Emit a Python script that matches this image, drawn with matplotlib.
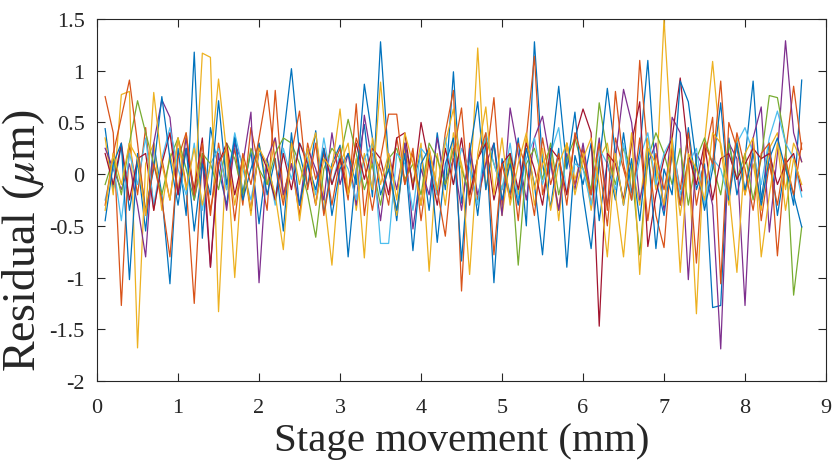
import matplotlib
matplotlib.use('Agg')
import matplotlib.pyplot as plt
import numpy as np

# stage positions (mm)
x = [round(0.1 * (i + 1), 1) for i in range(87)]

# residuals (um) per run
blue1 = [0.44, -0.15, 0.28, -0.35, 0.12, -0.55, 0.30, -0.20, -1.06, 0.25,
         -0.40, 1.18, -0.62, 0.45, 0.05, -0.30, 0.38, -0.18, 0.22, -0.48,
         0.15, -0.25, 0.35, 1.02, 0.20, -0.12, 0.42, -0.38, 0.10, 0.28,
         -0.80, 0.05, 0.48, -0.22, 1.28, 0.12, -0.45, 0.30, -0.10, 0.22,
         -0.35, 0.40, -0.15, 0.99, -0.28, 0.18, -0.40, 0.32, -1.05, 0.15,
         -0.20, 0.35, -0.50, 1.28, 0.10, -0.32, 0.25, -0.90, 0.18, -0.10,
         0.30, -0.45, 0.12, -0.25, 0.40, -0.18, 0.22, 1.10, -0.05, -0.40,
         0.20, -0.30, 0.45, -0.15, 0.10, -1.29, -1.27, 0.35, -0.20, 0.15,
         0.90, -0.25, 0.30, -0.40, 0.10, -0.30, 0.91]
orange1 = [0.75, 0.40, -1.27, 0.30, -0.20, 0.45, -0.35, 0.15, -0.25, 0.35,
           -0.10, -1.25, 0.20, -0.40, 0.30, -0.15, 0.25, -0.30, 0.45, 0.05,
           -0.35, 0.81, -0.20, 0.10, -0.40, 0.30, -0.05, 0.20, -0.30, 0.15,
           -0.25, 0.68, -0.40, 0.20, 0.05, -0.30, 0.35, -0.10, 0.25, -0.45,
           0.15, -0.20, 0.40, 0.81, -1.13, 0.30, -0.25, 0.10, 0.74, -0.30,
           0.20, -0.45, 0.35, 1.14, -0.20, 0.15, -0.35, 0.30, -0.10, 0.25,
           -0.30, 0.10, -0.50, 0.35, 0.05, -0.25, 1.10, 0.20, -0.40, -0.71,
           0.30, -0.15, 0.40, -0.30, 0.15, 0.55, -1.06, 0.50, 0.25, -0.20,
           0.35, -0.45, 0.10, -0.30, 0.20, 0.85, 0.24]
yellow1 = [0.35, -0.20, 0.77, 0.80, -1.68, 0.10, 0.30, -0.35, 0.20, -0.15,
           0.40, -0.25, 1.17, 1.13, -1.33, 0.25, -0.30, 0.15, -0.40, 0.30,
           -0.10, 0.35, -0.25, 0.20, -0.45, 0.15, 0.40, -0.20, -0.88, 0.10,
           0.30, -0.35, 0.20, -0.15, 0.89, 0.05, -0.40, 0.25, -0.10, 0.30,
           -0.94, 0.20, -0.30, 0.40, 0.10, -0.25, 1.22, -0.15, 0.30, -0.40,
           0.15, -0.20, 0.35, -0.30, 0.10, 0.25, -0.45, 0.30, -0.05, 0.20,
           -0.35, 0.15, 0.30, -0.20, -0.80, 0.10, -0.30, 0.35, -0.15, 1.50,
           0.20, -0.40, 0.15, -1.35, 0.30, 1.09, 0.25, -0.30, 0.35, -0.20,
           0.10, -0.35, 0.25, 0.40, -0.15, 0.30, 0.12]
purple = [0.25, 0.05, -0.15, 0.10, -0.30, -0.80, 0.30, 0.72, 0.55, -0.20,
          0.35, -0.25, 0.15, -0.90, 0.20, -0.35, 0.30, 0.10, 0.60, -1.05,
          0.15, 0.35, -0.20, 0.10, -0.30, 0.25, 0.05, -0.25, 0.40, -0.10,
          0.20, -0.30, 0.57, 0.10, -0.45, 0.20, -0.15, 0.30, -0.53, 0.05,
          -0.20, 0.35, -0.10, 0.15, -0.35, 0.25, -0.20, 0.10, 0.30, -0.40,
          0.64, 0.20, -0.25, 0.35, 0.56, 0.10, -0.35, 0.20, -0.15, 0.30,
          -0.20, 0.35, -0.30, 0.15, 0.82, 0.50, -0.25, 0.10, 0.30, -0.35,
          0.55, 0.40, -1.02, 0.20, 0.05, -0.30, -1.69, 0.30, 0.15, -1.27,
          0.35, 0.65, -0.56, 0.20, 1.29, 0.40, 0.12]
green = [-0.10, 0.15, -0.20, 0.30, 0.71, 0.40, 0.10, -0.20, 0.15, 0.35,
         0.05, -0.25, 0.20, 0.10, -0.15, 0.30, 0.15, -0.20, 0.25, 0.05,
         -0.10, 0.20, 0.35, 0.30, 0.10, -0.20, -0.61, 0.05, 0.25, 0.15,
         0.53, 0.20, -0.15, 0.10, -0.30, 0.15, 0.25, -0.05, 0.10, -0.20,
         0.30, 0.15, -0.10, 0.25, 0.05, -0.20, 0.15, 0.35, 0.10, -0.15,
         0.20, -0.88, 0.10, 0.25, -0.05, 0.30, -0.20, 0.15, 0.35, 0.05,
         -0.15, 0.69, 0.20, -0.10, 0.25, 0.05, -0.78, 0.15, 0.40, 0.20,
         -0.10, 0.25, -0.30, 0.15, 0.35, 0.10, -0.20, 0.30, -0.05, 0.20,
         -0.25, 0.15, 0.76, 0.74, 0.30, -1.17, -0.51]
lightblue = [-0.25, 0.10, -0.45, 0.20, -0.10, 0.35, -0.30, 0.15, 0.45, 0.05,
             -0.20, 0.30, -0.35, 0.10, 0.25, -0.15, 0.40, 0.05, -0.25, 0.20,
             0.10, -0.30, 0.25, -0.05, 0.30, 0.15, -0.20, 0.35, -0.10, 0.20,
             0.05, -0.25, 0.15, 0.30, -0.67, -0.67, 0.20, 0.10, -0.35, 0.25,
             0.15, -0.20, 0.35, -0.10, 0.25, 0.05, -0.30, 0.40, 0.10, -0.15,
             0.30, -0.25, 0.15, 0.35, -0.10, 0.20, 0.45, -0.20, 0.10, 0.05,
             -0.30, 0.25, 0.10, -0.15, 0.30, -0.25, 0.15, 0.40, -0.10, 0.20,
             0.35, -0.20, 0.10, 0.25, -0.30, 0.15, 0.05, -0.25, 0.30, 0.45,
             0.20, -0.10, 0.35, 0.61, 0.30, 0.15, -0.22]
darkred = [0.20, -0.10, 0.30, -0.25, 0.15, 0.20, -0.35, 0.10, 0.40, -0.20,
           0.25, -0.15, 0.35, -0.90, 0.10, 0.30, -0.20, 0.15, -0.35, 0.25,
           0.05, -0.25, 0.20, -0.15, 0.30, 0.10, -0.30, 0.25, -0.10, 0.15,
           -0.20, 0.30, -0.05, 0.25, 0.15, -0.20, 0.35, 0.40, -0.15, 0.50,
           0.10, -0.30, 0.25, -0.10, 0.35, -0.20, 0.15, 0.30, -0.25, 0.10,
           0.20, -0.15, 0.30, 0.05, -0.30, 0.25, 0.15, -0.20, 0.35, 0.63,
           0.40, -1.47, 0.20, 0.10, -0.25, 0.30, 0.70, -0.70, -0.20, 0.15,
           0.35, 0.93, 0.20, -0.10, 0.30, -0.25, 0.15, 0.20, -0.05, 0.10,
           0.25, 0.15, 0.20, -0.10, 0.10, 0.20, -0.16]
blue2 = [-0.45, 0.10, 0.30, -1.02, 0.20, -0.35, 0.05, 0.75, 0.15, -0.30,
         0.25, -0.55, 0.10, -0.20, 0.71, -0.10, 0.35, -0.25, 0.05, 0.30,
         -0.20, 0.15, -0.55, 0.40, -0.30, 0.10, -0.15, 0.25, -0.40, 0.05,
         0.20, -0.10, 0.87, 0.35, -0.20, 0.05, -0.35, 0.20, -0.74, 0.10,
         0.25, -0.66, 0.10, 0.35, -0.84, 0.20, 0.70, -0.15, 0.30, -0.25,
         0.10, -0.30, 0.25, -0.10, -0.78, 0.15, 0.85, 0.05, 0.60, -0.20,
         -0.72, 0.10, 0.83, 0.20, -0.30, 0.15, -0.45, 0.25, -0.72, 0.05,
         -0.20, 0.90, 0.70, 0.10, -0.35, 0.05, 0.69, -0.25, 0.30, -0.15,
         0.20, -0.30, 0.15, 0.35, 0.05, -0.20, -0.51]
orange2 = [-0.30, 0.20, 0.55, 0.91, 0.30, -0.40, 0.10, -0.25, -0.80, 0.15,
           0.40, -0.20, 0.30, -0.35, 0.10, 0.25, -0.45, 0.20, -0.10, 0.35,
           0.81, 0.10, -0.30, 0.20, 0.61, -0.15, 0.30, -0.40, 0.05, 0.25,
           -0.20, 0.35, 0.10, -0.35, 0.15, 0.58, 0.58, -0.10, 0.20, -0.30,
           0.25, -0.15, -0.60, 0.20, 0.64, -0.30, 0.15, 0.40, -0.78, 0.10,
           -0.25, 0.30, 0.05, -0.40, 0.35, -0.10, 0.20, -0.30, 0.40, 0.15,
           -0.20, 0.30, -0.35, 0.80, 0.10, -0.25, 0.35, -0.45, 0.20, -0.15,
           0.25, -0.30, 0.15, -0.86, 0.30, 0.10, 0.90, -0.20, 0.40, 0.05,
           -0.35, 0.20, 0.30, -0.79, 0.15, -0.20, 0.30]
yellow2 = [-0.35, 0.20, -0.10, 0.30, 0.15, -0.40, 0.79, 0.10, -0.25, 0.35,
           -0.15, 0.25, -0.30, 0.10, 0.92, 0.20, -1.00, 0.15, -0.35, 0.25,
           0.10, -0.20, -0.73, 0.30, -0.10, 0.25, -0.30, 0.15, 0.05, 0.63,
           -0.20, 0.15, -0.81, 0.35, -0.10, 0.20, -0.25, 0.40, 0.10, -0.30,
           0.25, -0.15, 0.30, 0.63, 0.05, -0.97, 0.20, 0.65, -0.20, 0.35,
           -0.30, 0.10, 0.40, -0.15, 0.25, -0.35, 0.10, 0.30, -0.20, 0.15,
           0.35, -0.10, -0.80, 0.20, -0.30, 0.40, -0.97, 0.25, 0.10, -0.30,
           0.35, -0.95, 0.20, 0.05, -0.25, 0.40, 0.30, -0.15, -0.95, 0.20,
           0.35, -0.80, -0.20, 0.30, -0.35, 0.15, -0.10]

runs = [blue1, orange1, yellow1, purple, green, lightblue, darkred, blue2, orange2, yellow2]
colors = ['#0072BD', '#D95319', '#EDB120', '#7E2F8E', '#77AC30',
          '#4DBEEE', '#A2142F', '#0072BD', '#D95319', '#EDB120']

plt.rcParams['font.family'] = ['Liberation Serif', 'DejaVu Serif']
plt.rcParams['mathtext.fontset'] = 'stix'

fig = plt.figure(figsize=(8.38, 4.77), dpi=100)
ax = fig.add_axes([0.1158, 0.1992, 0.8699, 0.7588])

for run, c in zip(runs, colors):
    ax.plot(x, run, color=c, lw=0.9)

ax.set_xlim(0, 9)
ax.set_ylim(-2, 1.5)
ax.set_xticks(np.arange(0, 10, 1))
yt = np.arange(-2, 1.51, 0.5)
ax.set_yticks(yt)
ax.set_yticklabels(['%g' % v for v in yt])
ax.tick_params(direction='in', top=True, right=True, length=5.5, width=0.8,
               colors='#262626', labelsize=16)
ax.tick_params(axis='x', pad=12)
ax.tick_params(axis='y', pad=9)
for s in ax.spines.values():
    s.set_color('#262626')
    s.set_linewidth(0.8)

ax.set_xlabel('Stage movement (mm)', fontsize=29.5, color='#262626', labelpad=4)
ax.set_ylabel(r'Residual ($\mu$m)', fontsize=33, color='#262626')
ax.yaxis.set_label_coords(-0.068, 0.39)

fig.savefig('out.png', dpi=100)
